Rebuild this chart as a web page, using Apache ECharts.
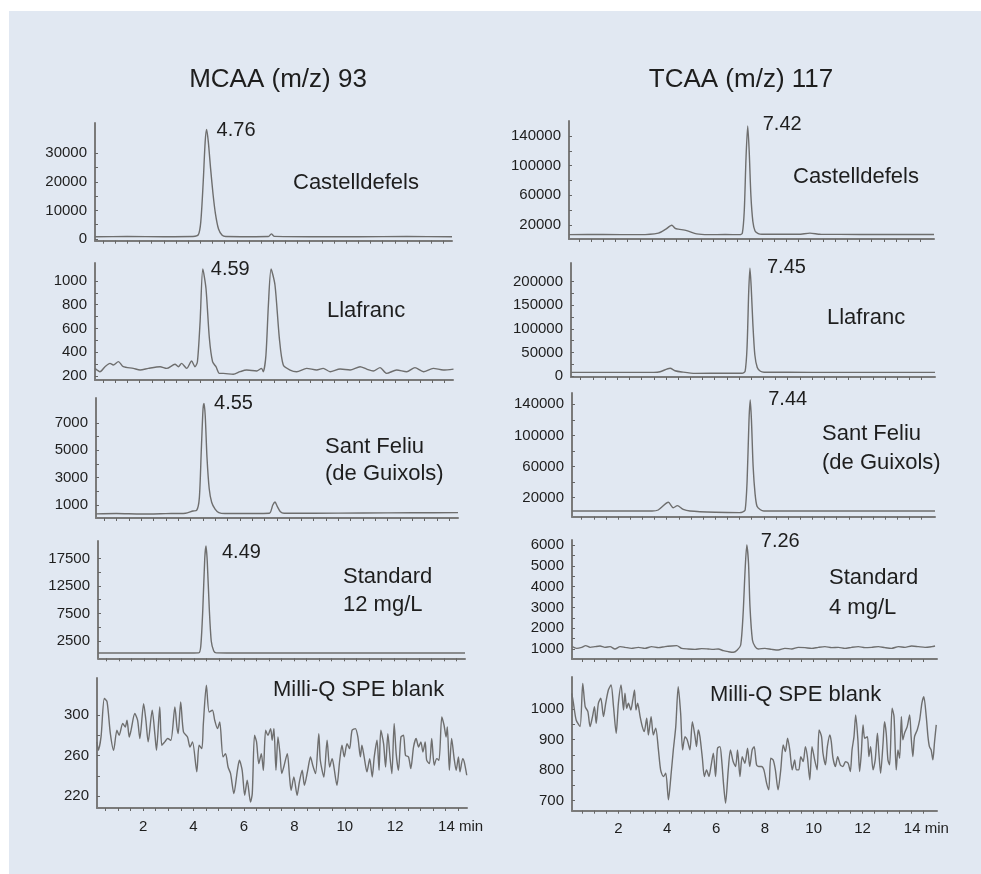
<!DOCTYPE html>
<html>
<head>
<meta charset="utf-8">
<script src="https://cdn.jsdelivr.net/npm/echarts@6/dist/echarts.min.js"></script>
<style>
  html, body { margin: 0; padding: 0; background: #ffffff; overflow: hidden; }
  #chart { position: absolute; left: 9px; top: 11px; width: 972px; height: 863px; }
</style>
</head>
<body>
<div id="chart"></div>
<script>
// ---- Retention time (min) / abundance pairs for each chromatogram ----

// MCAA (m/z 93)
const mcaaCastelldefels = [[0.17,800],[1.5,850],[3.0,800],[4.2,850],[4.42,1500],[4.52,6000],[4.62,20000],[4.7,34000],[4.76,38300],[4.83,34000],[4.92,25000],[5.02,16000],[5.12,9000],[5.25,3500],[5.4,1300],[5.55,850],[6.5,800],[7.3,850],[7.42,1800],[7.55,900],[9,800],[11,800],[13,850],[14.85,800]];
const mcaaLlafranc = [[0.17,264],[0.375,236],[0.58,278],[0.785,306],[0.92,292],[1.13,321],[1.33,278],[1.74,264],[2.02,250],[2.36,264],[2.84,278],[3.11,264],[3.45,298],[3.59,278],[3.72,306],[3.93,264],[4.13,326],[4.27,278],[4.37,320],[4.48,657],[4.59,1100],[4.72,938],[4.86,517],[4.99,320],[5.13,278],[5.27,222],[5.43,222],[5.84,214],[6.12,236],[6.39,250],[6.8,242],[7.0,264],[7.07,236],[7.18,377],[7.28,798],[7.39,1100],[7.55,966],[7.73,517],[7.89,292],[8.17,250],[8.44,236],[8.85,264],[9.26,250],[9.53,264],[9.81,236],[10.22,258],[10.63,250],[11.04,278],[11.31,258],[11.58,242],[11.86,270],[12.13,222],[12.54,250],[12.95,236],[13.29,270],[13.64,236],[14.04,264],[14.45,250],[14.87,258]];
const mcaaSantFeliu = [[0.17,350],[1.0,380],[2.0,340],[3.0,370],[3.8,400],[4.1,560],[4.25,600],[4.36,1500],[4.44,5000],[4.51,8000],[4.55,8420],[4.6,7500],[4.67,4500],[4.76,2200],[4.86,1200],[5.0,700],[5.15,450],[5.4,380],[6.5,380],[7.2,400],[7.34,1000],[7.43,1220],[7.52,900],[7.65,500],[7.8,400],[9,400],[11,420],[13,430],[14.85,440]];
const mcaaStandard = [[0.17,320],[2,320],[4,330],[4.2,350],[4.28,1500],[4.36,8000],[4.44,17500],[4.49,19770],[4.54,17000],[4.62,8500],[4.7,2500],[4.8,700],[4.9,350],[6,320],[8,320],[10,320],[12,320],[14.85,320]];
const mcaaBlank = [[0.17,273.6],[0.22,265.3],[0.33,278.5],[0.46,316.6],[0.57,313.3],[0.7,281.8],[0.83,265.3],[0.96,285.1],[1.05,280.2],[1.19,291.8],[1.29,288.4],[1.36,295.1],[1.45,278.5],[1.52,285.1],[1.67,301.7],[1.78,295.1],[1.87,276.9],[2.02,311.6],[2.11,295.1],[2.2,273.6],[2.36,305],[2.47,280.2],[2.53,265.3],[2.66,308.3],[2.74,270.2],[2.86,273.6],[2.97,276.9],[3.1,275.2],[3.26,308.3],[3.34,288.4],[3.39,281.8],[3.49,313.3],[3.6,283.5],[3.76,278.5],[3.86,268.6],[3.96,273.6],[4.13,243.8],[4.22,270.2],[4.33,266.9],[4.39,291.8],[4.51,329.8],[4.62,303.3],[4.75,305],[4.84,295.1],[4.95,286.8],[5.04,293.4],[5.17,258.7],[5.27,262],[5.37,248.7],[5.47,242.1],[5.6,222.3],[5.74,245.4],[5.82,255.4],[5.93,245.4],[6.03,220.6],[6.13,235.5],[6.26,214],[6.33,222.3],[6.42,280.2],[6.5,273.6],[6.59,252],[6.69,262],[6.77,245.4],[6.86,285.1],[6.95,280.2],[7.06,286.8],[7.12,275.2],[7.19,286.8],[7.27,245.4],[7.35,278.5],[7.43,262],[7.5,242.1],[7.58,248.7],[7.72,262],[7.81,238.8],[7.87,225.6],[7.98,238.8],[8.11,220.6],[8.2,233.8],[8.31,245.4],[8.4,230.5],[8.53,245.4],[8.64,258.7],[8.73,250.4],[8.84,242.1],[8.97,281.8],[9.03,255.4],[9.17,238.8],[9.3,275.2],[9.4,248.7],[9.5,257],[9.56,250.4],[9.69,230.5],[9.8,255.4],[9.89,270.2],[9.98,258.7],[10.09,271.9],[10.19,266.9],[10.29,285.1],[10.42,286.8],[10.52,278.5],[10.62,258.7],[10.68,270.2],[10.77,258.7],[10.88,243.8],[10.99,257],[11.09,238.8],[11.17,258.7],[11.28,275.2],[11.36,245.4],[11.43,285.1],[11.54,271.9],[11.62,248.7],[11.71,281.8],[11.8,257],[11.87,242.1],[11.96,291.8],[12.04,262],[12.13,245.4],[12.23,278.5],[12.33,280.2],[12.41,260.3],[12.53,258.7],[12.62,247.1],[12.73,268.6],[12.83,276.9],[12.93,268.6],[13.02,273.6],[13.1,263.6],[13.19,273.6],[13.25,255.4],[13.36,252],[13.45,276.9],[13.55,250.4],[13.65,257],[13.74,255.4],[13.85,298.4],[13.94,290.1],[14.02,278.5],[14.07,288.4],[14.15,245.4],[14.24,276.9],[14.34,257],[14.42,245.4],[14.51,258.7],[14.57,243.8],[14.68,257],[14.74,253.7],[14.84,240.5]];

// TCAA (m/z 117)
const tcaaCastelldefels = [[0.1,7000],[1.5,7200],[3.0,7000],[3.76,9000],[4.05,14000],[4.31,19600],[4.45,15500],[4.58,14400],[4.92,12500],[5.33,8000],[5.8,7000],[6.5,7200],[7.1,7000],[7.2,9000],[7.28,40000],[7.35,110000],[7.42,153500],[7.48,120000],[7.55,60000],[7.63,25000],[7.72,12000],[7.85,8500],[8.0,7500],[9.5,7500],[9.97,9000],[10.4,7500],[12,7300],[14,7300],[15.05,7300]];
const tcaaLlafranc = [[0.1,7800],[2,7600],[3.5,7800],[3.76,9100],[4.17,16300],[4.37,11200],[4.65,8500],[5.2,5500],[6.5,6000],[7.13,6000],[7.25,10000],[7.33,60000],[7.4,180000],[7.45,228400],[7.5,190000],[7.57,110000],[7.65,45000],[7.75,18000],[7.88,10000],[8.03,8000],[10,7800],[12,7800],[15.05,7800]];
const tcaaSantFeliu = [[0.1,2900],[2,2900],[3.4,2900],[3.65,4200],[4.07,14100],[4.27,7100],[4.44,9800],[4.68,5000],[4.96,2900],[6,1300],[7.0,800],[7.12,1500],[7.23,4000],[7.31,40000],[7.39,120000],[7.44,145500],[7.49,120000],[7.56,60000],[7.64,25000],[7.72,9000],[7.86,4500],[8.0,3000],[10,2900],[12,2900],[15.05,2900]];
const tcaaStandard = [[0.11,1113],[0.29,1033],[0.5,1081],[0.66,1161],[0.84,1081],[1.04,1113],[1.25,1145],[1.45,1081],[1.66,1113],[1.86,1001],[2.07,1113],[2.27,1081],[2.54,1033],[2.82,1081],[3.09,1033],[3.36,1113],[3.64,1065],[3.91,1113],[4.18,1145],[4.39,1161],[4.59,1033],[4.86,1001],[5.14,985],[5.41,1017],[5.68,1001],[5.89,985],[6.09,1001],[6.3,921],[6.5,873],[6.71,841],[6.87,953],[7.01,1193],[7.11,2716],[7.19,4800],[7.26,6003],[7.33,5121],[7.39,3037],[7.49,1434],[7.6,1113],[7.73,1001],[8.0,1033],[8.28,985],[8.55,953],[8.82,1033],[9.1,1001],[9.37,1081],[9.64,1065],[9.92,1033],[10.19,1081],[10.46,1113],[10.74,1065],[11.01,1081],[11.28,1033],[11.55,1081],[11.83,1113],[12.1,1065],[12.37,1081],[12.65,1113],[12.92,1065],[13.19,1033],[13.47,1113],[13.74,1081],[14.01,1145],[14.29,1113],[14.56,1081],[14.83,1113],[14.97,1145]];
const tcaaBlank = [[0.09,1052.4],[0.16,1019.6],[0.27,965],[0.43,943.1],[0.54,1085.2],[0.64,1008.7],[0.75,992.3],[0.84,943.1],[0.94,975.9],[1.02,1008.7],[1.09,954],[1.18,1019.6],[1.28,1036],[1.39,975.9],[1.48,1019.6],[1.59,1063.3],[1.7,1079.7],[1.8,1008.7],[1.91,921.2],[2.0,1019.6],[2.11,1079.7],[2.21,997.7],[2.27,1052.4],[2.34,1003.2],[2.41,1019.6],[2.51,997.7],[2.59,1030.5],[2.66,1063.3],[2.72,997.7],[2.79,1019.6],[2.89,975.9],[2.98,943.1],[3.06,926.7],[3.16,970.4],[3.23,915.8],[3.34,975.9],[3.43,915.8],[3.53,937.6],[3.64,866.6],[3.73,801],[3.84,779.1],[3.94,790.1],[4.05,702.7],[4.15,779.1],[4.25,866.6],[4.35,943.1],[4.45,1074.3],[4.55,986.8],[4.63,866.6],[4.73,910.3],[4.82,899.4],[4.93,866.6],[5.03,959.5],[5.14,910.3],[5.2,877.5],[5.27,932.2],[5.34,910.3],[5.44,839.3],[5.52,779.1],[5.61,801],[5.71,779.1],[5.79,811.9],[5.89,855.6],[5.98,779.1],[6.06,872],[6.16,877.5],[6.23,833.8],[6.31,751.8],[6.39,691.7],[6.5,801],[6.59,866.6],[6.7,828.3],[6.8,811.9],[6.88,866.6],[6.98,779.1],[7.07,844.7],[7.18,822.9],[7.29,872],[7.38,811.9],[7.48,866.6],[7.56,877.5],[7.66,817.4],[7.75,811.9],[7.86,811.9],[7.96,801],[8.07,757.3],[8.16,735.4],[8.24,839.3],[8.34,833.8],[8.43,801],[8.54,735.4],[8.65,801],[8.75,883],[8.84,861.1],[8.93,904.8],[9.02,866.6],[9.12,801],[9.22,833.8],[9.29,801],[9.39,801],[9.47,844.7],[9.57,828.3],[9.66,877.5],[9.74,844.7],[9.84,768.2],[9.93,877.5],[10.04,833.8],[10.14,801],[10.22,932.2],[10.32,910.3],[10.38,855.6],[10.48,817.4],[10.56,877.5],[10.66,915.8],[10.72,893.9],[10.79,839.3],[10.89,811.9],[10.98,844.7],[11.09,817.4],[11.2,811.9],[11.3,828.3],[11.41,822.9],[11.5,795.5],[11.57,866.6],[11.65,910.3],[11.72,981.4],[11.81,899.4],[11.88,795.5],[11.95,855.6],[12.02,948.6],[12.09,904.8],[12.2,910.3],[12.26,844.7],[12.33,877.5],[12.43,801],[12.52,833.8],[12.61,921.2],[12.67,855.6],[12.74,790.1],[12.84,888.4],[12.9,959.5],[12.97,921.2],[13.04,833.8],[13.11,817.4],[13.21,1003.2],[13.29,975.9],[13.38,801],[13.45,866.6],[13.52,839.3],[13.59,975.9],[13.65,899.4],[13.72,921.2],[13.83,943.1],[13.93,981.4],[13.99,910.3],[14.06,844.7],[14.13,910.3],[14.24,932.2],[14.34,964.9],[14.43,1019.6],[14.51,1041.5],[14.61,975.9],[14.68,910.3],[14.74,877.5],[14.81,866.6],[14.88,833.8],[14.95,893.9],[15.02,948.6]];

// Peak retention times that are annotated
const mcaaPeakTimes = [4.76, 4.59, 4.55, 4.49];
const tcaaPeakTimes = [7.42, 7.45, 7.44, 7.26];

// Abundance tick labels
const mcaaCastelldefelsTicks = [0, 10000, 20000, 30000];
const mcaaLlafrancTicks = [200, 400, 600, 800, 1000];
const mcaaSantFeliuTicks = [1000, 3000, 5000, 7000];
const mcaaStandardTicks = [2500, 7500, 12500, 17500];
const mcaaBlankTicks = [220, 260, 300];
const tcaaCastelldefelsTicks = [20000, 60000, 100000, 140000];
const tcaaLlafrancTicks = [0, 50000, 100000, 150000, 200000];
const tcaaSantFeliuTicks = [20000, 60000, 100000, 140000];
const tcaaStandardTicks = [1000, 2000, 3000, 4000, 5000, 6000];
const tcaaBlankTicks = [700, 800, 900, 1000];

// Time tick labels (min)
const timeTicks = [2, 4, 6, 8, 10, 12, 14];

// ---- Layout ----
const OX = 9, OY = 11;               // chart container offset on the page
const FONT = '"Liberation Sans", Arial, Helvetica, sans-serif';
const TXT = '#1e1e1e';
const TRACE = '#6e6e6e';
const AXIS = '#7a7a7a';
const mcaaRange = [0.17, 14.85];
const tcaaRange = [0.1, 15.05];

// grid box: [left, right, top, bottom] in page pixels
const panels = [
  { data: mcaaCastelldefels, peak: mcaaPeakTimes[0], ticks: mcaaCastelldefelsTicks, box: [95, 452, 123, 240.7], y: [-600, 40600], x: mcaaRange, lab: [10, 1] },
  { data: mcaaLlafranc,      peak: mcaaPeakTimes[1], ticks: mcaaLlafrancTicks,      box: [95, 453, 263, 380],   y: [166, 1151],   x: mcaaRange, lab: [8, 0] },
  { data: mcaaSantFeliu,     peak: mcaaPeakTimes[2], ticks: mcaaSantFeliuTicks,     box: [96, 458, 398, 518],   y: [50, 8810],    x: mcaaRange, lab: [10, 0] },
  { data: mcaaStandard,      peak: mcaaPeakTimes[3], ticks: mcaaStandardTicks,      box: [98, 465, 541, 658.3], y: [-645, 20680], x: mcaaRange, lab: [16, 6] },
  { data: mcaaBlank,         peak: null,             ticks: mcaaBlankTicks,         box: [97, 467, 678, 808],   y: [208, 337],    x: mcaaRange, bottom: true },
  { data: tcaaCastelldefels, peak: tcaaPeakTimes[0], ticks: tcaaCastelldefelsTicks, box: [569, 934, 121, 239],  y: [1140, 160200], x: tcaaRange, lab: [15, -1] },
  { data: tcaaLlafranc,      peak: tcaaPeakTimes[1], ticks: tcaaLlafrancTicks,      box: [571, 935, 263, 377],  y: [-2100, 239500], x: tcaaRange, lab: [17, -1] },
  { data: tcaaSantFeliu,     peak: tcaaPeakTimes[2], ticks: tcaaSantFeliuTicks,     box: [572, 935, 393, 516.7], y: [-4400, 154500], x: tcaaRange, lab: [18, -1] },
  { data: tcaaStandard,      peak: tcaaPeakTimes[3], ticks: tcaaStandardTicks,      box: [572, 937, 540, 659],  y: [520, 6240],    x: tcaaRange, lab: [14, -3] },
  { data: tcaaBlank,         peak: null,             ticks: tcaaBlankTicks,         box: [572, 937, 677, 810.7], y: [667, 1106],   x: tcaaRange, bottom: true }
];

// minor time ticks along each x axis
const minorTime = [];
for (let t = 0.5; t < 15; t += 0.5) minorTime.push(t);

const grids = [], xAxes = [], yAxes = [], series = [];
panels.forEach((p, i) => {
  const [l, r, t, b] = p.box;
  grids.push({ left: l - OX, top: t - OY, width: r - l, height: b - t, outerBoundsMode: 'none' });
  xAxes.push({
    gridIndex: i, type: 'value', min: p.x[0], max: p.x[1],
    axisLine: { show: true, onZero: false, lineStyle: { color: AXIS, width: 2 } },
    axisTick: { show: true, customValues: minorTime, length: 3, lineStyle: { color: '#666', width: 1 } },
    axisLabel: {
      show: !!p.bottom, customValues: timeTicks, color: TXT, fontSize: 15, fontFamily: FONT, margin: 11,
      formatter: v => (v === 14 ? '{g|}14 min' : String(v)),
      rich: { g: { width: 30 } }
    },
    splitLine: { show: false }
  });
  const yMinor = [];
  for (let k = 0; k < p.ticks.length; k++) {
    yMinor.push(p.ticks[k]);
    if (k + 1 < p.ticks.length) yMinor.push((p.ticks[k] + p.ticks[k + 1]) / 2);
  }
  yAxes.push({
    gridIndex: i, type: 'value', min: p.y[0], max: p.y[1],
    axisLine: { show: true, onZero: false, lineStyle: { color: AXIS, width: 2 } },
    axisTick: { show: true, inside: true, customValues: yMinor, length: 3, lineStyle: { color: '#666', width: 1 } },
    axisLabel: {
      customValues: p.ticks, color: TXT, fontSize: 15, fontFamily: FONT, margin: 8,
      formatter: v => String(v)
    },
    splitLine: { show: false }
  });
  series.push({
    type: 'line', xAxisIndex: i, yAxisIndex: i, data: p.data,
    showSymbol: false, smooth: 0.25, animation: false, silent: true,
    lineStyle: { color: TRACE, width: 1.4 }
  });
  if (p.peak !== null) {
    const apex = p.data.find(d => d[0] === p.peak);
    series.push({
      type: 'scatter', xAxisIndex: i, yAxisIndex: i, data: [apex],
      symbolSize: 0, animation: false, silent: true,
      itemStyle: { opacity: 1 },
      label: {
        show: true, position: 'right', distance: p.lab[0], offset: [0, p.lab[1]],
        formatter: q => q.value[0].toFixed(2),
        color: TXT, fontSize: 20, fontFamily: FONT
      }
    });
  }
});

// titles and sample names
const texts = [
  ['MCAA (m/z) 93', 278, 80, 26, 'center'],
  ['TCAA (m/z) 117', 741, 80, 26, 'center'],
  ['Castelldefels', 293, 183, 22, 'left'],
  ['Llafranc', 327, 311, 22, 'left'],
  ['Sant Feliu', 325, 447, 22, 'left'],
  ['(de Guixols)', 325, 474, 22, 'left'],
  ['Standard', 343, 577, 22, 'left'],
  ['12 mg/L', 343, 605, 22, 'left'],
  ['Milli-Q SPE blank', 273, 690, 22, 'left'],
  ['Castelldefels', 793, 177, 22, 'left'],
  ['Llafranc', 827, 318, 22, 'left'],
  ['Sant Feliu', 822, 434, 22, 'left'],
  ['(de Guixols)', 822, 463, 22, 'left'],
  ['Standard', 829, 578, 22, 'left'],
  ['4 mg/L', 829, 608, 22, 'left'],
  ['Milli-Q SPE blank', 710, 695, 22, 'left']
];
const graphic = texts.map(([s, x, y, fs, al]) => ({
  type: 'text', x: x - OX, y: y - OY, silent: true,
  style: { text: s, fontSize: fs, fontFamily: FONT, fill: TXT, align: al, verticalAlign: 'middle' }
}));

const chart = echarts.init(document.getElementById('chart'), null, { renderer: 'canvas' });
chart.setOption({
  backgroundColor: '#e1e8f2',
  animation: false,
  grid: grids,
  xAxis: xAxes,
  yAxis: yAxes,
  series: series,
  graphic: graphic
});
</script>
</body>
</html>
